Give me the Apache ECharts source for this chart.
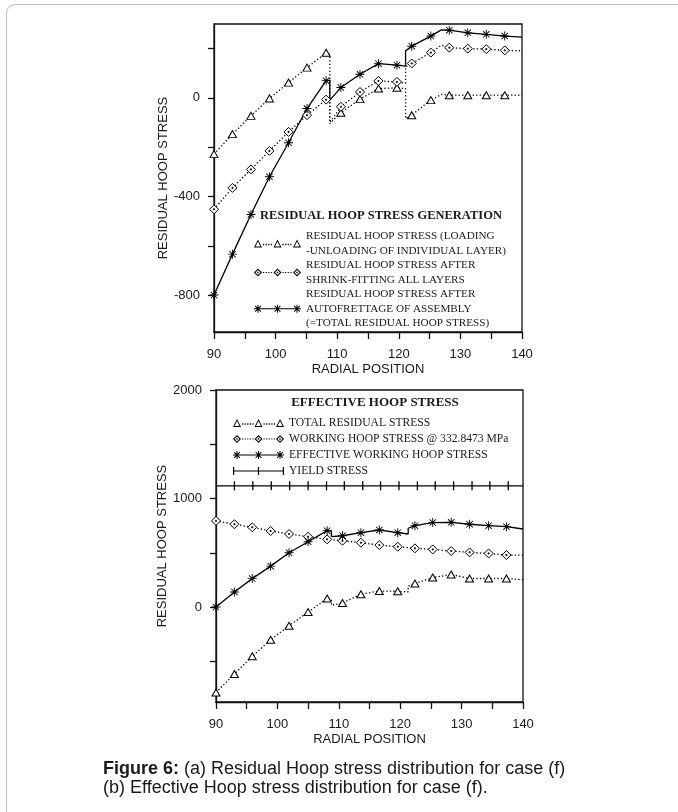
<!DOCTYPE html>
<html><head><meta charset="utf-8">
<script src="https://cdn.jsdelivr.net/npm/echarts@6/dist/echarts.min.js"></script>
<style>
html,body{margin:0;padding:0;background:#fff;overflow:hidden;width:678px;height:812px;}
#frame{position:absolute;left:6px;top:4px;width:690px;height:830px;border:1.5px solid #bdbdbd;border-radius:9px;box-sizing:border-box;}
#chart{position:absolute;left:0;top:0;width:678px;height:812px;}
</style></head><body>
<div id="frame"></div>
<div id="chart"></div>
<script>
// ---------- DATA ----------
// (a) Residual hoop stress generation
const topMarkX = [90, 93, 96, 99, 102.1, 105.1, 108.2, 110.6, 113.7, 116.7, 119.7, 122.1, 125.2, 128.2, 131.2, 134.2, 137.2];
const topTriMark = [-228, -147, -73, -2, 62, 123, 183, -60, -5, 38, 41, -70, -9, 11, 11, 11, 11];
const topDiaMark = [-452, -365, -290, -215, -138, -70, -7, -36, 24, 69, 65, 140, 184, 204, 200, 198, 193];
const topStarMark = [-800, -634, -473, -320, -182, -43, 70, 42, 96, 139, 133, 210, 251, 275, 264, 258, 251];
const topLineX = [90, 93, 96, 99, 102.1, 105.1, 108.2, 108.8, 108.8, 110.6, 113.7, 116.7, 119.7, 121.1, 121.1, 122.1, 125.2, 126.9, 128.2, 131.2, 134.2, 137.2, 140];
const topTriLine = [-228, -147, -73, -2, 62, 123, 183, 176, -104, -60, -5, 38, 41, 38, -84, -70, -9, 14, 11, 11, 11, 11, 11];
const topDiaLine = [-452, -365, -290, -215, -138, -70, -7, -3, -100, -36, 24, 69, 65, 60, 126, 140, 184, 214, 204, 200, 198, 193, 191];
const topStarLine = [-800, -634, -473, -320, -182, -43, 70, 72, -9, 42, 96, 139, 133, 129, 191, 210, 251, 276, 275, 264, 258, 251, 247];

// (b) Effective hoop stress
const botMarkX = [90, 93, 95.9, 98.9, 101.9, 105, 108.1, 110.6, 113.6, 116.6, 119.6, 122.4, 125.3, 128.3, 131.3, 134.4, 137.3];
const botTriMark = [-787, -617, -454, -302, -172, -46, 78, 37, 118, 148, 145, 217, 272, 300, 263, 263, 263];
const botDiaMark = [794, 763, 735, 701, 673, 648, 624, 611, 593, 571, 556, 541, 531, 516, 504, 494, 479];
const botStarMark = [0, 139, 262, 377, 500, 602, 704, 657, 685, 710, 685, 750, 778, 781, 763, 750, 741];
const botLineX = [90, 93, 95.9, 98.9, 101.9, 105, 108.1, 108.8, 108.8, 110.6, 113.6, 116.6, 119.6, 121.3, 121.3, 122.4, 125.3, 128.3, 131.3, 134.4, 137.3, 140];
const botTriLine = [-787, -617, -454, -302, -172, -46, 78, 70, 16, 37, 118, 148, 145, 139, 192, 217, 272, 300, 263, 263, 263, 253];
const botStarLine = [0, 139, 262, 377, 500, 602, 704, 700, 648, 657, 685, 710, 685, 673, 726, 750, 778, 781, 763, 750, 741, 719];
const botDiaLineX = [90, 93, 95.9, 98.9, 101.9, 105, 108.1, 110.6, 113.6, 116.6, 119.6, 122.4, 125.3, 128.3, 131.3, 134.4, 137.3, 140];
const botDiaLine = [794, 763, 735, 701, 673, 648, 624, 611, 593, 571, 556, 541, 531, 516, 504, 494, 479, 479];
const yieldLineX = [90, 140];
const yieldLine = [1117, 1117];
const yieldMarkX = [93, 96, 99, 102, 105, 108, 110.9, 113.9, 116.8, 119.8, 122.8, 125.7, 128.7, 131.7, 134.6, 137.6];

// ticks
const xTicks = [90, 95, 100, 105, 110, 115, 120, 125, 130, 135, 140];
const xLabels = [90, 100, 110, 120, 130, 140];
const topYTicks = [-800, -600, -400, -200, 0, 200];
const topYLabels = [-800, -400, 0];
const botYTicks = [-500, 0, 500, 1000, 1500, 2000];
const botYLabels = [0, 1000, 2000];

// texts
const topLegendTitle = 'RESIDUAL HOOP STRESS GENERATION';
const topNames = ['RESIDUAL HOOP STRESS (LOADING\n-UNLOADING OF INDIVIDUAL LAYER)', 'RESIDUAL HOOP STRESS AFTER\nSHRINK-FITTING ALL LAYERS', 'RESIDUAL HOOP STRESS AFTER\nAUTOFRETTAGE OF ASSEMBLY\n(=TOTAL RESIDUAL HOOP STRESS)'];
const botLegendTitle = 'EFFECTIVE HOOP STRESS';
const botNames = ['TOTAL RESIDUAL STRESS', 'WORKING HOOP STRESS @ 332.8473 MPa', 'EFFECTIVE WORKING HOOP STRESS', 'YIELD STRESS'];
const xName = 'RADIAL POSITION';
const yName = 'RESIDUAL HOOP STRESS';

// ---------- SYMBOLS ----------
const STAR = 'path://M-0.5,-5 L0.5,-5 L0.5,5 L-0.5,5 Z M-5,-0.5 L5,-0.5 L5,0.5 L-5,0.5 Z M-3.19,-3.89 L3.89,3.19 L3.19,3.89 L-3.89,-3.19 Z M3.89,-3.19 L-3.19,3.89 L-3.89,3.19 L3.19,-3.89 Z M-1.6,-1.6 L1.6,-1.6 L1.6,1.6 L-1.6,1.6 Z';
const DIAMOND = 'path://M0,-5 L5,0 L0,5 L-5,0 Z M-0.6,-0.6 L0.6,-0.6 L0.6,0.6 L-0.6,0.6 Z';
const TICK = 'path://M-0.6,-4 L0.6,-4 L0.6,4 L-0.6,4 Z';

function f(n){return n.toFixed(2);}
function poly(pts){return 'M' + pts.map(p => f(p[0]) + ',' + f(p[1])).join(' L') + ' Z ';}
function rect(x, y, w, h){return poly([[x,y],[x+w,y],[x+w,y+h],[x,y+h]]);}
function dots(x0, x1, y){let s=''; for(let x=x0; x<=x1-1; x+=2.6){ s += rect(x, y-0.6, 1.2, 1.2);} return s;}
function shrink(pts, c, k){return pts.map(p => [c[0]+(p[0]-c[0])*k, c[1]+(p[1]-c[1])*k]);}
function triIcon(W){
  const H = 7, cs = [4, W/2, W-4]; let s = '';
  cs.forEach(cx => {
    const o = [[cx,0],[cx+4,H],[cx-4,H]];
    const c = [cx, H*0.66];
    const i = shrink(o, c, 0.62).reverse();
    s += poly(o) + poly(i);
  });
  s += dots(9, W/2-4.5, H*0.62) + dots(W/2+5, W-8.5, H*0.62);
  return 'path://' + s;
}
function diaIcon(W){
  const H = 8, cs = [4, W/2, W-4]; let s = '';
  cs.forEach(cx => {
    const o = [[cx,0],[cx+4,H/2],[cx,H],[cx-4,H/2]];
    const c = [cx, H/2];
    const i = shrink(o, c, 0.62).reverse();
    s += poly(o) + poly(i) + rect(cx-0.7, H/2-0.7, 1.4, 1.4);
  });
  s += dots(9, W/2-4.5, H/2) + dots(W/2+5, W-8.5, H/2);
  return 'path://' + s;
}
function starIcon(W){
  const H = 8, r = 4, cs = [4, W/2, W-4]; let s = '';
  cs.forEach(cx => {
    const cy = H/2, a = r*0.72, w = 0.5;
    s += rect(cx-w, cy-r, 2*w, 2*r) + rect(cx-r, cy-w, 2*r, 2*w);
    s += poly([[cx-a+0.35,cy-a-0.35],[cx+a+0.35,cy+a-0.35],[cx+a-0.35,cy+a+0.35],[cx-a-0.35,cy-a+0.35]]);
    s += poly([[cx+a+0.35,cy-a+0.35],[cx-a+0.35,cy+a+0.35],[cx-a-0.35,cy+a-0.35],[cx+a-0.35,cy-a-0.35]]);
    s += rect(cx-1.5, cy-1.5, 3, 3);
  });
  s += rect(0, H/2-0.6, W, 1.2);
  return 'path://' + s;
}
function yieldIcon(W){
  const H = 8; let s = rect(0, H/2-0.6, W, 1.2);
  [0, W/2-0.6, W-1.2].forEach(x => { s += rect(x, 0, 1.2, H); });
  return 'path://' + s;
}

// ---------- CHART ----------
const chart = echarts.init(document.getElementById('chart'), null, {renderer: 'canvas'});
const SANS = 'Arial, "Liberation Sans", Helvetica, sans-serif';
const SERIF = '"Liberation Serif", "Times New Roman", Times, serif';
const TXT = '#1a1a1a';
const AX = '#111';

function pairs(xs, ys){return xs.map((x, i) => [x, ys[i]]);}
const plain = v => String(v);

function xAxisCfg(gi){
  return {
    type: 'value', gridIndex: gi, min: 90, max: 140,
    name: xName, nameLocation: 'middle', nameGap: 31,
    nameTextStyle: {fontFamily: SANS, fontSize: 13, color: TXT},
    axisLine: {show: true, onZero: false, lineStyle: {color: AX, width: 1.3}},
    axisTick: {show: true, inside: false, length: 7, customValues: xTicks, lineStyle: {color: AX, width: 1.3}},
    axisLabel: {show: true, margin: 16, customValues: xLabels, formatter: plain, fontFamily: SANS, fontSize: 13, color: TXT},
    splitLine: {show: false}
  };
}
function yAxisCfg(gi, min, max, ticks, labels){
  return {
    type: 'value', gridIndex: gi, min: min, max: max,
    name: yName, nameLocation: 'middle', nameGap: 44, nameRotate: 90,
    nameTextStyle: {fontFamily: SANS, fontSize: 13, color: TXT},
    axisLine: {show: true, onZero: false, lineStyle: {color: AX, width: 1.3}},
    axisTick: {show: true, inside: false, length: 6, customValues: ticks, lineStyle: {color: AX, width: 1.3}},
    axisLabel: {show: true, margin: 14, customValues: labels, formatter: plain, fontFamily: SANS, fontSize: 13, color: TXT},
    splitLine: {show: false}
  };
}

const dotted = {color: '#000', width: 1.3, type: [1.3, 2.2]};
const solid = {color: '#000', width: 1.3, type: 'solid'};

function lineSeries(name, gi, xs, ys, ls){
  return {type: 'line', name: name, xAxisIndex: gi, yAxisIndex: gi, data: pairs(xs, ys),
    symbol: 'none', lineStyle: ls, itemStyle: {color: '#000'}, silent: true, animation: false, z: 2};
}
function markSeries(gi, xs, ys, symbol, size, filled){
  return {type: 'scatter', name: '_m', xAxisIndex: gi, yAxisIndex: gi, data: pairs(xs, ys),
    symbol: symbol, symbolSize: size, silent: true, animation: false, z: 3,
    itemStyle: filled ? {color: '#000', borderWidth: 0, opacity: 1} : {color: '#fff', borderColor: '#000', borderWidth: 1, opacity: 1}};
}

const option = {
  backgroundColor: 'transparent',
  animation: false,
  grid: [
    {left: 214, top: 24, width: 308, height: 308, show: true, borderColor: AX, borderWidth: 1.3, backgroundColor: 'transparent'},
    {left: 216, top: 390, width: 307, height: 312, show: true, borderColor: AX, borderWidth: 1.3, backgroundColor: 'transparent'}
  ],
  xAxis: [xAxisCfg(0), xAxisCfg(1)],
  yAxis: [yAxisCfg(0, -950, 300, topYTicks, topYLabels), yAxisCfg(1, -875, 2000, botYTicks, botYLabels)],
  legend: [
    {
      orient: 'vertical', left: 249, top: 224, itemGap: 0, itemWidth: 47, itemHeight: 8,
      symbolKeepAspect: false, selectedMode: false,
      itemStyle: {color: '#000', borderWidth: 0},
      textStyle: {fontFamily: SERIF, fontSize: 11.2, color: TXT, lineHeight: 14.5},
      data: [
        {name: topNames[0], icon: triIcon(47)},
        {name: topNames[1], icon: diaIcon(47)},
        {name: topNames[2], icon: starIcon(47)}
      ]
    },
    {
      orient: 'vertical', left: 228, top: 410, itemGap: 0, itemWidth: 51, itemHeight: 8,
      symbolKeepAspect: false, selectedMode: false,
      itemStyle: {color: '#000', borderWidth: 0},
      textStyle: {fontFamily: SERIF, fontSize: 11.6, color: TXT, lineHeight: 16},
      data: [
        {name: botNames[0], icon: triIcon(51)},
        {name: botNames[1], icon: diaIcon(51)},
        {name: botNames[2], icon: starIcon(51)},
        {name: botNames[3], icon: yieldIcon(51)}
      ]
    }
  ],
  graphic: [
    {type: 'text', x: 381, y: 216, silent: true, style: {text: topLegendTitle, font: 'bold 12.5px ' + SERIF, fill: TXT, align: 'center', verticalAlign: 'middle'}},
    {type: 'text', x: 375, y: 403, silent: true, style: {text: botLegendTitle, font: 'bold 13px ' + SERIF, fill: TXT, align: 'center', verticalAlign: 'middle'}},
    {type: 'text', x: 103, y: 769, silent: true, style: {text: '{b|Figure 6:} (a) Residual Hoop stress distribution for case (f)', font: '18px ' + SANS, fill: TXT, align: 'left', verticalAlign: 'middle', rich: {b: {fontWeight: 'bold', fontSize: 18, fontFamily: SANS, fill: TXT}}}},
    {type: 'text', x: 103, y: 788, silent: true, style: {text: '(b) Effective Hoop stress distribution for case (f).', font: '18px ' + SANS, fill: TXT, align: 'left', verticalAlign: 'middle'}}
  ],
  series: [
    lineSeries(topNames[0], 0, topLineX, topTriLine, dotted),
    lineSeries(topNames[1], 0, topLineX, topDiaLine, dotted),
    lineSeries(topNames[2], 0, topLineX, topStarLine, solid),
    markSeries(0, topMarkX, topTriMark, 'triangle', [8, 7], false),
    markSeries(0, topMarkX, topDiaMark, DIAMOND, 9, false),
    markSeries(0, topMarkX, topStarMark, STAR, 9, true),

    lineSeries(botNames[0], 1, botLineX, botTriLine, dotted),
    lineSeries(botNames[1], 1, botDiaLineX, botDiaLine, dotted),
    lineSeries(botNames[2], 1, botLineX, botStarLine, solid),
    lineSeries(botNames[3], 1, yieldLineX, yieldLine, solid),
    markSeries(1, botMarkX, botTriMark, 'triangle', [8, 7], false),
    markSeries(1, botMarkX, botDiaMark, DIAMOND, 9, false),
    markSeries(1, botMarkX, botStarMark, STAR, 9, true),
    markSeries(1, yieldMarkX, yieldMarkX.map(() => yieldLine[0]), TICK, [1.3, 9], true)
  ]
};
chart.setOption(option);
</script></body></html>
